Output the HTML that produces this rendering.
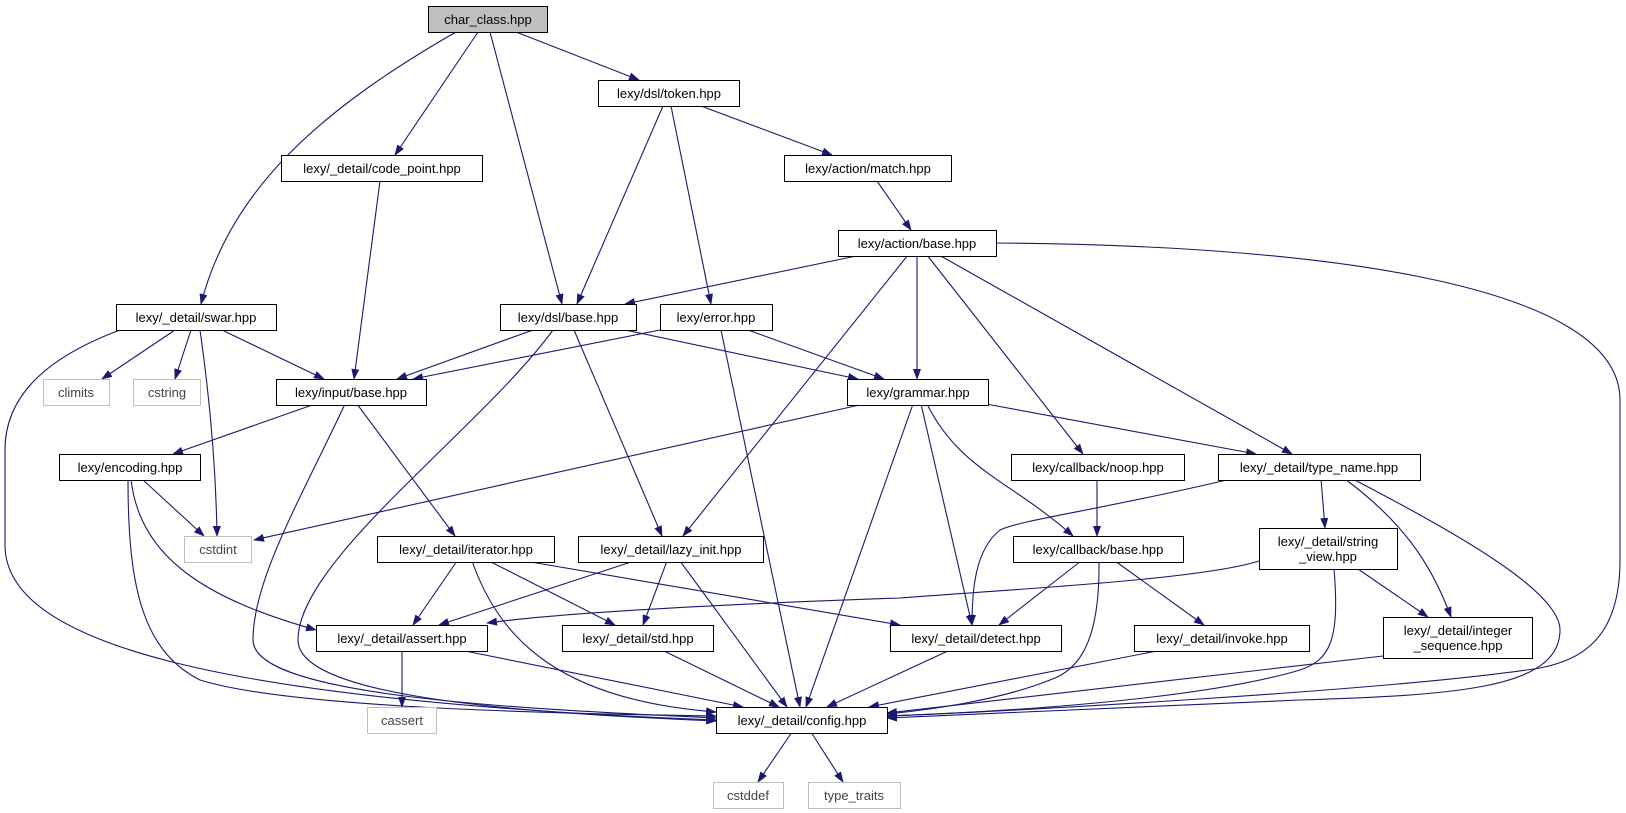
<!DOCTYPE html>
<html><head><meta charset="utf-8"><style>
html,body{margin:0;padding:0;background:#fff;}
svg{display:block;}
text{font-family:"Liberation Sans",sans-serif;font-size:13px;fill:#000;}
.g text{fill:#444;}
</style></head><body>
<svg width="1626" height="813" viewBox="0 0 1626 813" xmlns="http://www.w3.org/2000/svg">
<defs>
<marker id="a" markerWidth="11" markerHeight="8" refX="10" refY="4" orient="auto" markerUnits="userSpaceOnUse">
<polygon points="0,0 11,4 0,8" fill="#191970"/>
</marker>
</defs>
<g fill="none" stroke="#191970" stroke-width="1.1" marker-end="url(#a)">
<path d="M456,32 C320,110 230,190 201,304"/>
<path d="M478,32 L395,155"/>
<path d="M490,32 L562,304"/>
<path d="M516,32 L639,80"/>
<path d="M663,106 L577,304"/>
<path d="M671,106 L711,304"/>
<path d="M701,106 L832,155"/>
<path d="M380,181 L354,379"/>
<path d="M877,181 L911,230"/>
<path d="M861,255 L625,304"/>
<path d="M908,255 L683,536"/>
<path d="M917,255 L917,379"/>
<path d="M927,255 L1083,454"/>
<path d="M939,255 L1292,454"/>
<path d="M996,243 C1300,245 1620,280 1620,400 L1620,560 C1620,640 1580,660 1540,668 C1400,690 1000,712 887,716"/>
<path d="M175,330 L102,379"/>
<path d="M191,330 L175,379"/>
<path d="M200,330 C210,400 216,470 217,536"/>
<path d="M222,330 L324,379"/>
<path d="M120,330 C40,360 5,400 5,450 L5,545 C5,640 200,700 716,720"/>
<path d="M533,330 L397,379"/>
<path d="M553,330 C480,430 298,560 298,640 C298,695 500,712 716,721"/>
<path d="M574,330 L662,536"/>
<path d="M625,330 L858,379"/>
<path d="M660,330 L413,379"/>
<path d="M721,330 L800,707"/>
<path d="M748,330 L884,379"/>
<path d="M315,404 L173,454"/>
<path d="M345,404 C300,500 253,580 253,640 C253,695 500,708 716,718"/>
<path d="M357,404 L455,536"/>
<path d="M864,404 L254,540"/>
<path d="M913,404 L806,707"/>
<path d="M921,404 L972,625"/>
<path d="M927,404 C960,470 1010,480 1073,536"/>
<path d="M986,404 L1256,454"/>
<path d="M142,479 L204,536"/>
<path d="M131,479 C140,560 210,600 316,630"/>
<path d="M128,479 C128,580 140,650 200,680 C280,705 500,713 716,716"/>
<path d="M457,561 L413,625"/>
<path d="M472,561 C500,640 560,700 716,712"/>
<path d="M489,561 L615,625"/>
<path d="M525,561 L900,625"/>
<path d="M634,561 L439,625"/>
<path d="M667,561 L643,625"/>
<path d="M680,561 L787,707"/>
<path d="M402,650 L402,707"/>
<path d="M460,650 L743,707"/>
<path d="M662,650 L779,707"/>
<path d="M1097,479 L1097,536"/>
<path d="M1231,479 C1100,510 1020,520 1000,530 C975,550 972,590 972,625"/>
<path d="M1321,479 L1325,528"/>
<path d="M1345,479 C1400,520 1430,560 1451,617"/>
<path d="M1353,479 C1450,530 1560,590 1560,630 C1560,690 1450,695 1300,700 L887,718"/>
<path d="M1081,561 L999,625"/>
<path d="M1099,561 C1100,640 1080,670 1050,680 C1000,700 930,710 887,714"/>
<path d="M1115,561 L1204,625"/>
<path d="M1259,561 C1200,580 1000,590 900,598 C700,605 560,613 487,623"/>
<path d="M1334,569 C1340,640 1330,660 1300,670 C1200,700 1000,712 887,716"/>
<path d="M1358,569 L1428,617"/>
<path d="M950,650 L827,707"/>
<path d="M1162,650 L869,707"/>
<path d="M1383,656 L887,713"/>
<path d="M792,732 L758,782"/>
<path d="M811,732 L843,782"/>
</g>
<g stroke="#000" stroke-width="1" fill="#fff">
<rect x="428.5" y="6.5" width="119" height="26" fill="#bfbfbf"/>
<rect x="598.5" y="80.5" width="141" height="26"/>
<rect x="281.5" y="155.5" width="201" height="26"/>
<rect x="784.5" y="155.5" width="167" height="26"/>
<rect x="838.5" y="230.5" width="158" height="26"/>
<rect x="116.5" y="304.5" width="160" height="26"/>
<rect x="500.5" y="304.5" width="136" height="26"/>
<rect x="660.5" y="304.5" width="112" height="26"/>
<rect x="276.5" y="379.5" width="150" height="26"/>
<rect x="847.5" y="379.5" width="141" height="26"/>
<rect x="59.5" y="454.5" width="141" height="26"/>
<rect x="1011.5" y="454.5" width="173" height="26"/>
<rect x="1218.5" y="454.5" width="202" height="26"/>
<rect x="377.5" y="536.5" width="177" height="26"/>
<rect x="578.5" y="536.5" width="185" height="26"/>
<rect x="1013.5" y="536.5" width="170" height="26"/>
<rect x="1259.5" y="528.5" width="138" height="41"/>
<rect x="316.5" y="625.5" width="171" height="26"/>
<rect x="562.5" y="625.5" width="151" height="26"/>
<rect x="890.5" y="625.5" width="171" height="26"/>
<rect x="1134.5" y="625.5" width="175" height="26"/>
<rect x="1383.5" y="617.5" width="149" height="41"/>
<rect x="716.5" y="707.5" width="171" height="26"/>
</g>
<g stroke="#bfbfbf" stroke-width="1" fill="#fff">
<rect x="43.5" y="379.5" width="66" height="26"/>
<rect x="133.5" y="379.5" width="67" height="26"/>
<rect x="184.5" y="536.5" width="67" height="26"/>
<rect x="367.5" y="707.5" width="69" height="26"/>
<rect x="713.5" y="782.5" width="70" height="26"/>
<rect x="808.5" y="782.5" width="92" height="26"/>
</g>
<g text-anchor="middle">
<text x="488" y="24">char_class.hpp</text>
<text x="669" y="98">lexy/dsl/token.hpp</text>
<text x="382" y="173">lexy/_detail/code_point.hpp</text>
<text x="868" y="173">lexy/action/match.hpp</text>
<text x="917" y="248">lexy/action/base.hpp</text>
<text x="196" y="322">lexy/_detail/swar.hpp</text>
<text x="568" y="322">lexy/dsl/base.hpp</text>
<text x="716" y="322">lexy/error.hpp</text>
<text x="351" y="397">lexy/input/base.hpp</text>
<text x="918" y="397">lexy/grammar.hpp</text>
<text x="130" y="472">lexy/encoding.hpp</text>
<text x="1098" y="472">lexy/callback/noop.hpp</text>
<text x="1319" y="472">lexy/_detail/type_name.hpp</text>
<text x="466" y="554">lexy/_detail/iterator.hpp</text>
<text x="671" y="554">lexy/_detail/lazy_init.hpp</text>
<text x="1098" y="554">lexy/callback/base.hpp</text>
<text x="1328" y="546">lexy/_detail/string</text>
<text x="1328" y="561">_view.hpp</text>
<text x="402" y="643">lexy/_detail/assert.hpp</text>
<text x="638" y="643">lexy/_detail/std.hpp</text>
<text x="976" y="643">lexy/_detail/detect.hpp</text>
<text x="1222" y="643">lexy/_detail/invoke.hpp</text>
<text x="1458" y="635">lexy/_detail/integer</text>
<text x="1458" y="650">_sequence.hpp</text>
<text x="802" y="725">lexy/_detail/config.hpp</text>
</g>
<g text-anchor="middle" class="g">
<text x="76" y="397">climits</text>
<text x="167" y="397">cstring</text>
<text x="218" y="554">cstdint</text>
<text x="402" y="725">cassert</text>
<text x="748" y="800">cstddef</text>
<text x="854" y="800">type_traits</text>
</g>
</svg>
</body></html>
